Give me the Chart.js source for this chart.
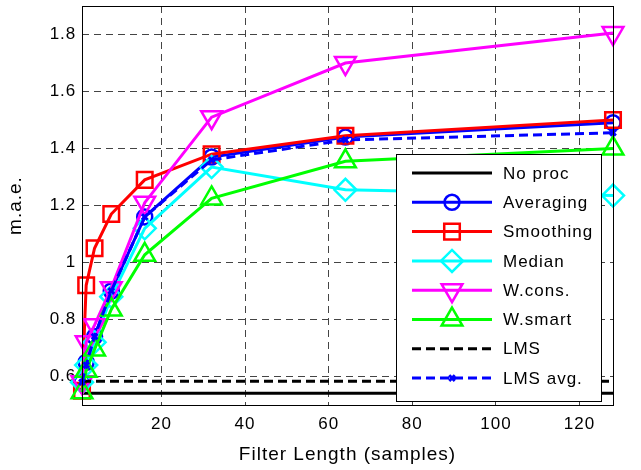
<!DOCTYPE html>
<html>
<head>
<meta charset="utf-8">
<script src="https://cdn.jsdelivr.net/npm/chart.js@4/dist/chart.umd.min.js"></script>
<style>
  html, body { margin: 0; padding: 0; background: #fff; }
  #wrap { position: relative; width: 641px; height: 470px; }
</style>
</head>
<body>
<div id="wrap"><canvas id="maeChart"></canvas></div>
<script>
const filterLengths = [1, 2, 4, 8, 16, 32, 64, 128];
const xTicks = [20, 40, 60, 80, 100, 120];
const yTicks = [0.6, 0.8, 1.0, 1.2, 1.4, 1.6, 1.8];

const noProc    = [0.541, 0.541, 0.541, 0.541, 0.541, 0.541, 0.541, 0.541];
const averaging = [0.58, 0.65, 0.74, 0.90, 1.16, 1.37, 1.44, 1.49];
const smoothing = [0.55, 0.92, 1.05, 1.17, 1.29, 1.38, 1.445, 1.50];
const median    = [0.58, 0.64, 0.72, 0.88, 1.12, 1.335, 1.255, 1.235];
const wCons     = [0.58, 0.72, 0.78, 0.91, 1.21, 1.51, 1.70, 1.805];
const wSmart    = [0.545, 0.62, 0.695, 0.835, 1.027, 1.225, 1.355, 1.40];
const lms       = [0.583, 0.583, 0.583, 0.583, 0.583, 0.583, 0.583, 0.583];
const lmsAvg    = [0.58, 0.64, 0.74, 0.90, 1.16, 1.36, 1.43, 1.455];

const COLORS = {
  black: '#000000',
  blue: '#0000ff',
  red: '#ff0000',
  cyan: '#00ffff',
  magenta: '#ff00ff',
  green: '#00ff00',
  grid: '#444444',
};

const FONT = 'Liberation Sans, Arial, sans-serif';

function series(label, values, color, style) {
  return Object.assign({
    label,
    data: values.map((v, i) => ({ x: filterLengths[i], y: v })),
    borderColor: color,
    pointBorderColor: color,
    pointBackgroundColor: 'rgba(0,0,0,0)',
    backgroundColor: 'rgba(0,0,0,0)',
    borderWidth: 3,
    pointBorderWidth: 2.5,
    pointRadius: 8,
    pointStyle: false,
    tension: 0,
    clip: false,
  }, style);
}

const datasets = [
  series('No proc', noProc, COLORS.black, {}),
  series('Averaging', averaging, COLORS.blue, { pointStyle: 'circle', pointRadius: 7.5 }),
  series('Smoothing', smoothing, COLORS.red, { pointStyle: 'rect', pointRadius: 11 }),
  series('Median', median, COLORS.cyan, { pointStyle: 'rectRot', pointRadius: 11 }),
  series('W.cons.', wCons, COLORS.magenta, { pointStyle: 'triangle', pointRotation: 180, pointRadius: 12 }),
  series('W.smart', wSmart, COLORS.green, { pointStyle: 'triangle', pointRadius: 12 }),
  series('LMS', lms, COLORS.black, { borderDash: [9, 5] }),
  series('LMS avg.', lmsAvg, COLORS.blue, { borderDash: [9, 5], pointStyle: 'crossRot', pointRadius: 4, pointBorderWidth: 3 }),
];
// later series are painted on top, like the original plot
datasets.forEach((d, i) => { d.order = datasets.length - i; });

// the original text is set a little loose
function spacing(chart) { chart.ctx.letterSpacing = '1px'; }

const boxAndLegend = {
  id: 'boxAndLegend',
  beforeUpdate: spacing,
  beforeLayout: spacing,
  beforeDraw: spacing,
  afterDatasetsDraw(chart) {
    const { ctx, chartArea: a } = chart;
    ctx.save();
    ctx.strokeStyle = '#000';
    ctx.lineWidth = 1;
    ctx.setLineDash([]);
    ctx.strokeRect(a.left + 0.5, a.top + 0.5, a.right - a.left, a.bottom - a.top);

    // legend box
    const lx = 396, ly = 154, lw = 205, lh = 247;
    ctx.fillStyle = '#fff';
    ctx.fillRect(lx, ly, lw, lh);
    ctx.strokeRect(lx + 0.5, ly + 0.5, lw, lh);

    ctx.font = '17px ' + FONT;
    ctx.letterSpacing = '1px';
    ctx.textBaseline = 'middle';
    datasets.forEach((d, i) => {
      const y = 173 + i * 29.3;
      ctx.strokeStyle = d.borderColor;
      ctx.lineWidth = 3;
      ctx.setLineDash(d.borderDash || []);
      ctx.beginPath();
      ctx.moveTo(412, y);
      ctx.lineTo(492, y);
      ctx.stroke();
      ctx.setLineDash([]);
      if (d.pointStyle) {
        ctx.fillStyle = 'rgba(0,0,0,0)';
        ctx.lineWidth = d.pointBorderWidth;
        Chart.helpers.drawPoint(ctx, {
          pointStyle: d.pointStyle,
          rotation: d.pointRotation || 0,
          radius: d.pointRadius,
          borderWidth: d.pointBorderWidth,
        }, 452, y);
      }
      ctx.fillStyle = '#000';
      ctx.textAlign = 'left';
      ctx.fillText(d.label, 503, y + 1);
    });
    ctx.restore();
  },
};

new Chart(document.getElementById('maeChart'), {
  type: 'line',
  data: { datasets },
  plugins: [boxAndLegend],
  options: {
    responsive: true,
    maintainAspectRatio: false,
    animation: false,
    layout: { autoPadding: false, padding: { top: 6, right: 28, left: 0, bottom: 0 } },
    plugins: { legend: { display: false }, tooltip: { enabled: false } },
    scales: {
      x: {
        type: 'linear',
        min: 1,
        max: 128,
        afterBuildTicks: (s) => { s.ticks = xTicks.map((v) => ({ value: v })); },
        afterFit: (s) => { s.height = 65; },
        grid: { color: COLORS.grid, drawTicks: false },
        border: { display: false, dash: [7, 5] },
        ticks: { color: '#000', font: { family: FONT, size: 17 }, padding: 9, maxRotation: 0 },
        title: { display: true, text: 'Filter Length (samples)', color: '#000', font: { family: FONT, size: 19 }, padding: { top: 0, bottom: 4 } },
      },
      y: {
        type: 'linear',
        min: 0.5,
        max: 1.9,
        afterBuildTicks: (s) => { s.ticks = yTicks.map((v) => ({ value: v })); },
        afterFit: (s) => { s.width = 82; },
        grid: { color: COLORS.grid, drawTicks: false },
        border: { display: false, dash: [7, 5] },
        // small line height keeps the plot box close to the top edge;
        // the trailing space gives the gap to the axis
        ticks: {
          color: '#000',
          font: { family: FONT, size: 17, lineHeight: 0.7 },
          padding: 0,
          callback: (v) => (Math.abs(v - 1) < 1e-9 ? '1' : v.toFixed(1)) + ' ',
        },
        title: { display: true, text: 'm.a.e.', color: '#000', font: { family: FONT, size: 19 }, padding: { top: 4, bottom: 2 } },
      },
    },
  },
});
</script>
</body>
</html>
